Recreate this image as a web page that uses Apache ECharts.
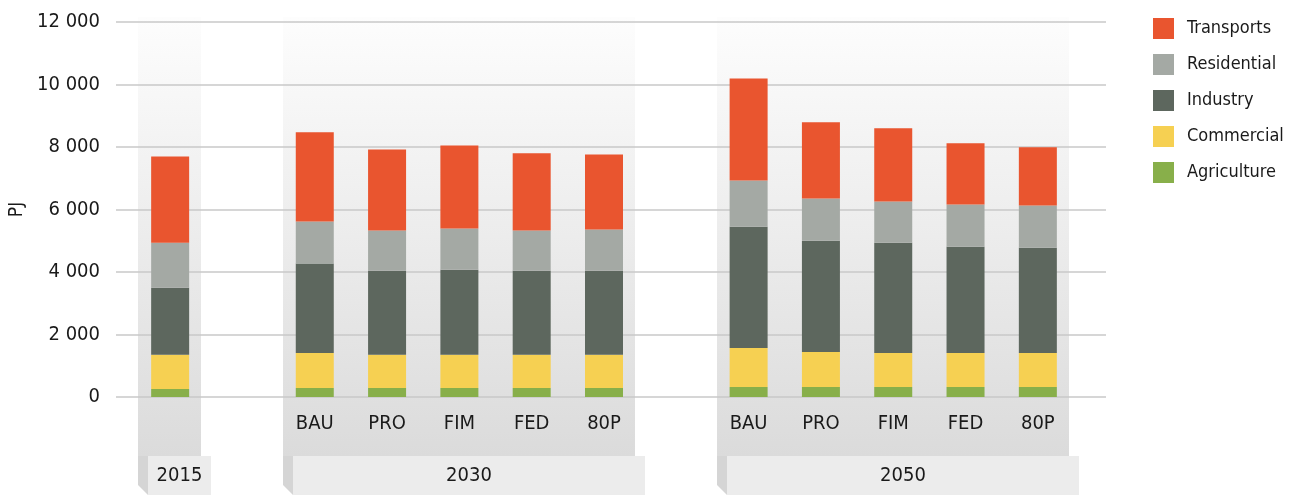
<!DOCTYPE html>
<html><head><meta charset="utf-8">
<script src="https://cdn.jsdelivr.net/npm/echarts@6/dist/echarts.min.js"></script>
<style>html,body{margin:0;padding:0;background:#fff}#c{width:1297px;height:495px}</style>
</head><body><div id="c"></div>
<script>
// ---------- data ----------
const groups = ['2015', '2030', '2050'];
const scenarios = ['BAU', 'PRO', 'FIM', 'FED', '80P'];
const yTicks = [0, 2000, 4000, 6000, 8000, 10000, 12000];
const legendOrder = ['Transports', 'Residential', 'Industry', 'Commercial', 'Agriculture'];
// order of values: 2015, 2030 BAU..80P, 2050 BAU..80P  (PJ)
const agriculture = [260, 290, 290, 290, 290, 290, 320, 320, 320, 320, 320];
const commercial  = [1090, 1120, 1060, 1060, 1060, 1060, 1250, 1120, 1090, 1090, 1090];
const industry    = [2150, 2860, 2690, 2720, 2690, 2690, 3880, 3560, 3530, 3400, 3370];
const residential = [1440, 1350, 1290, 1320, 1290, 1320, 1480, 1350, 1320, 1350, 1350];
const transports  = [2760, 2850, 2590, 2660, 2470, 2400, 3260, 2440, 2340, 1960, 1860];
const colors = {
  Agriculture: '#88AF4A', Commercial: '#F6D052', Industry: '#5D675E',
  Residential: '#A4A9A4', Transports: '#E9552F'
};

// ---------- build category slots (with an empty slot between groups) ----------
const slots = [];      // category keys
const slotGroup = [];  // group of each slot (null for gaps)
const dataIndex = [];  // index into value arrays (null for gaps)
let vi = 0;
groups.forEach((g, gi) => {
  if (gi > 0) { slots.push('gap' + gi); slotGroup.push(null); dataIndex.push(null); }
  const subs = gi === 0 ? [''] : scenarios;
  subs.forEach(s => { slots.push(g + '|' + s); slotGroup.push(g); dataIndex.push(vi++); });
});
const mapVals = arr => dataIndex.map(i => i === null ? null : arr[i]);
const seriesDefs = [
  ['Agriculture', agriculture], ['Commercial', commercial], ['Industry', industry],
  ['Residential', residential], ['Transports', transports]
];

const FONT = '"Liberation Sans Narrow", "DejaVu Sans Condensed", "Liberation Sans", sans-serif';
const chart = echarts.init(document.getElementById('c'), null, { renderer: 'canvas' });
const fmtNum = v => String(v).replace(/\B(?=(\d{3})+(?!\d))/g, ' ');

chart.setOption({
  animation: false,
  backgroundColor: '#ffffff',
  textStyle: { fontFamily: FONT },
  grid: [
    { left: 116, right: 191, top: 22, bottom: 98, containLabel: false, outerBoundsMode: 'none' },
    { left: 134, right: 223, top: 22, bottom: 98, containLabel: false, outerBoundsMode: 'none' }
  ],
  xAxis: [
    { gridIndex: 0, type: 'value', min: 0, max: 1, show: false },
    {
      gridIndex: 1, type: 'category', data: slots,
      axisLine: { show: false }, axisTick: { show: false },
      axisLabel: {
        interval: 0, margin: 17, color: '#1a1a1a', fontSize: 20, fontFamily: FONT,
        formatter: v => (v.indexOf('|') >= 0 ? v.split('|')[1] : '')
      }
    }
  ],
  yAxis: [
    {
      gridIndex: 0, type: 'value', min: 0, max: 12000, interval: 2000,
      name: 'PJ', nameLocation: 'middle', nameGap: 84, nameRotate: 90,
      nameTextStyle: { fontSize: 19, color: '#1a1a1a', fontFamily: FONT },
      axisLine: { show: false }, axisTick: { show: false },
      axisLabel: { margin: 16, fontSize: 20, color: '#1a1a1a', fontFamily: FONT, formatter: fmtNum },
      splitLine: { lineStyle: { color: '#c9c9c9', width: 1.5 } }
    },
    {
      gridIndex: 1, type: 'value', min: 0, max: 12000, interval: 2000,
      show: false, splitLine: { show: false }
    }
  ],
  legend: {
    data: legendOrder, orient: 'vertical', left: 1153, top: 18, padding: 0,
    itemWidth: 21, itemHeight: 21, itemGap: 15, icon: 'rect',
    textStyle: { fontSize: 18, color: '#1a1a1a', fontFamily: FONT, padding: [0, 0, 0, 8], lineHeight: 21 },
    selectedMode: false
  },
  series: seriesDefs.map(([name, arr]) => ({
    name, type: 'bar', stack: 'total', xAxisIndex: 1, yAxisIndex: 1,
    barWidth: 38, data: mapVals(arr),
    itemStyle: { color: colors[name] }, z: 3
  }))
});

// ---------- decorative group panels & year boxes, positioned from the axis ----------
const H = 495;
const gridTopPx = chart.convertToPixel({ yAxisIndex: 1 }, 12000);
const panelTop = gridTopPx - 5;
const boxTop = 456;
const gfx = [];
groups.forEach(g => {
  const idx = slots.map((s, i) => slotGroup[i] === g ? i : -1).filter(i => i >= 0);
  const first = chart.convertToPixel({ xAxisIndex: 1 }, slots[idx[0]]);
  const last = chart.convertToPixel({ xAxisIndex: 1 }, slots[idx[idx.length - 1]]);
  const L = Math.round(first - 32), R = Math.round(last + 31);
  gfx.push({
    type: 'rect', z: -5, silent: true,
    shape: { x: L, y: panelTop, width: R - L, height: boxTop - panelTop },
    style: { fill: new echarts.graphic.LinearGradient(0, 0, 0, 1, [
      { offset: 0, color: '#fdfdfd' }, { offset: 1, color: '#dbdbdb' }]) }
  });
  gfx.push({
    type: 'polygon', z: -5, silent: true,
    shape: { points: [[L, boxTop], [L + 10, boxTop], [L + 10, H], [L, H - 10]] },
    style: { fill: '#d5d5d5' }
  });
  gfx.push({
    type: 'rect', z: -4, silent: true,
    shape: { x: L + 10, y: boxTop, width: R - L, height: H - boxTop },
    style: { fill: '#ececec' }
  });
  gfx.push({
    type: 'text', z: -3, silent: true,
    x: L + 10 + (R - L) / 2, y: boxTop + (H - boxTop) / 2,
    style: { text: g, fontSize: 20, fontFamily: FONT, fill: '#1a1a1a', align: 'center', verticalAlign: 'middle' }
  });
});
chart.setOption({ graphic: gfx });
</script>
</body></html>
